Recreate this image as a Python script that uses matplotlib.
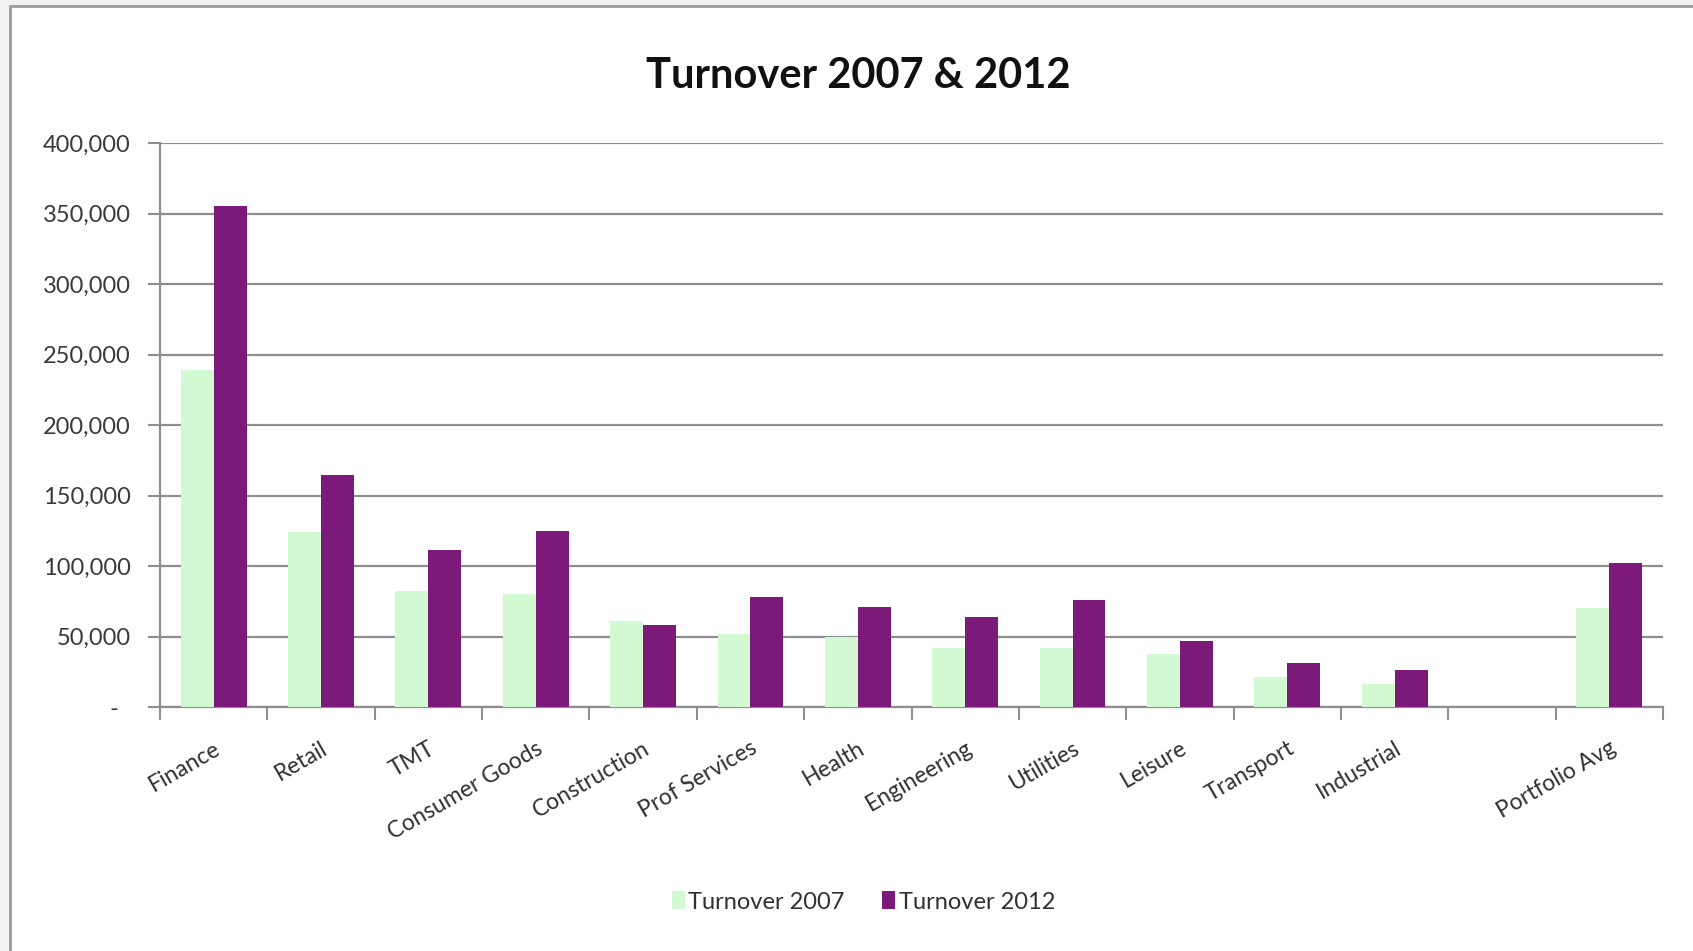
import numpy as np
import matplotlib.pyplot as plt
from matplotlib.patches import Rectangle
from matplotlib.ticker import FuncFormatter, FixedLocator

plt.rcParams['font.family'] = ['Lato', 'DejaVu Sans']

# turnover by sector (blank slot before the portfolio average)
sectors = ['Finance', 'Retail', 'TMT', 'Consumer Goods', 'Construction',
           'Prof Services', 'Health', 'Engineering', 'Utilities', 'Leisure',
           'Transport', 'Industrial', '', 'Portfolio Avg']
turnover_2007 = [239000, 124000, 82000, 80000, 61000, 52000, 50000,
                 42000, 42000, 37500, 21000, 16500, np.nan, 70500]
turnover_2012 = [355000, 164500, 111000, 124500, 58500, 78000, 71000,
                 64000, 76000, 47000, 31000, 26000, np.nan, 102000]

c07 = '#d3f9d3'
c12 = '#7b1a78'
grid_c = '#8e8e8e'

fig = plt.figure(figsize=(16.93, 9.51), dpi=100, facecolor='#f2f2f2')
# chart frame
fig.patches.append(Rectangle((10 / 1693, -0.1), 1.2, 1.1 - 6 / 951,
                             transform=fig.transFigure, facecolor='white',
                             edgecolor='#9a9a9a', linewidth=2, zorder=-1))

ax = fig.add_axes([160 / 1693, 1 - 707 / 951, 1503 / 1693, 564 / 951])
ax.set_facecolor('none')

x = np.arange(len(sectors))
w = 0.307
ax.bar(x - w / 2, turnover_2007, w, color=c07, label='Turnover 2007', zorder=3)
ax.bar(x + w / 2, turnover_2012, w, color=c12, label='Turnover 2012', zorder=3)

ax.set_xlim(-0.5, len(sectors) - 0.5)
ax.set_ylim(0, 400000)
ax.set_yticks(np.arange(0, 400001, 50000))
# accounting style: zero shown as a dash
ax.yaxis.set_major_formatter(FuncFormatter(lambda v, p: '-  ' if v == 0 else f'{int(v):,}'))
ax.grid(axis='y', color=grid_c, linewidth=1.6, zorder=1)

# category labels at centres, tick marks at boundaries
ax.set_xticks(x)
ax.set_xticklabels(sectors, rotation=30, ha='right', rotation_mode='anchor')
ax.xaxis.set_minor_locator(FixedLocator(np.arange(-0.5, len(sectors), 1)))
ax.tick_params(axis='x', which='major', length=0, pad=22, labelsize=16.5, labelcolor='#303030')
ax.tick_params(axis='x', which='minor', length=9, width=1.5, color=grid_c)
ax.tick_params(axis='y', length=9, width=1.5, color=grid_c, pad=12,
               labelsize=17, labelcolor='#3a3a3a')

for s in ['top', 'right']:
    ax.spines[s].set_visible(False)
for s in ['left', 'bottom']:
    ax.spines[s].set_color(grid_c)
    ax.spines[s].set_linewidth(1.6)

fig.text(0.507, 1 - 76 / 951, 'Turnover 2007 & 2012', ha='center', va='center',
         fontsize=30, fontweight='bold', color='#111111')

fig.legend(loc='center', bbox_to_anchor=(0.51, 1 - 902 / 951), ncol=2, frameon=False,
           fontsize=17, handlelength=0.55, handleheight=0.8, handletextpad=0.15,
           columnspacing=1.6, labelcolor='#303030')

fig.savefig('out.png', dpi=100, facecolor=fig.get_facecolor())
